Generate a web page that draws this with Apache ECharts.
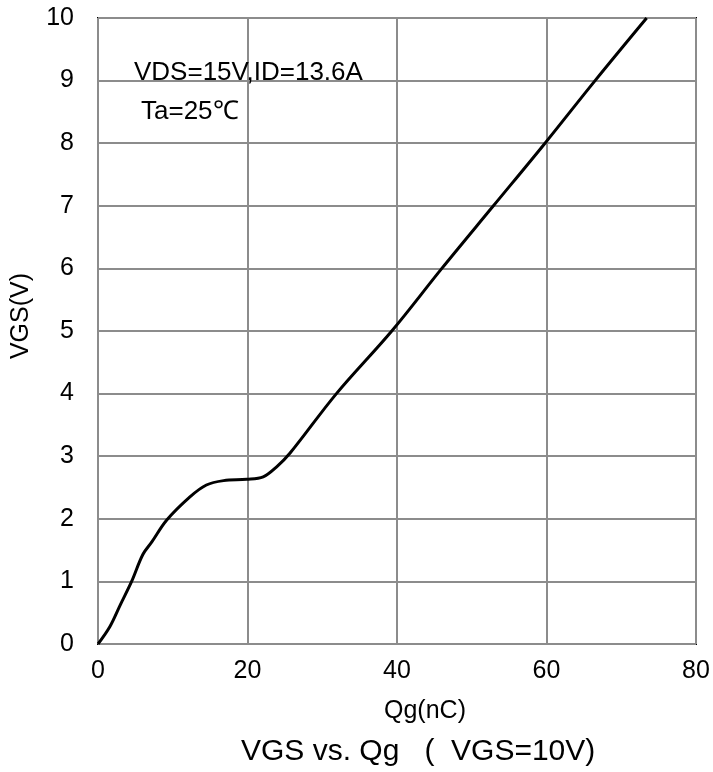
<!DOCTYPE html>
<html><head><meta charset="utf-8">
<script src="https://cdn.jsdelivr.net/npm/echarts@6/dist/echarts.min.js"></script>
<style>html,body{margin:0;padding:0;background:#fff}#c{width:713px;height:772px}</style>
</head><body><div id="c"></div>
<script>
const qg = [0, 1.6, 3.0, 4.5, 6.0, 7.2, 9.2, 12.3, 14.5, 16.8, 19.9, 22.1, 23.9, 25.7, 31.9, 39.3, 46.0, 52.9, 59.8, 66.5, 73.4];
const vgs = [0, 0.28, 0.63, 1.0, 1.43, 1.63, 1.98, 2.35, 2.54, 2.61, 2.63, 2.67, 2.83, 3.05, 4.0, 5.0, 6.0, 7.0, 8.0, 9.0, 10.0];
const xTicks = [0, 20, 40, 60, 80];
const yTicks = [0, 1, 2, 3, 4, 5, 6, 7, 8, 9, 10];
const xName = 'Qg(nC)';
const yName = 'VGS(V)';
const titleText = 'VGS vs. Qg   (  VGS=10V)';
const note1 = 'VDS=15V,ID=13.6A';
const note2 = 'Ta=25\u2103';

const chart = echarts.init(document.getElementById('c'));
const font = 'Liberation Sans, Arial, sans-serif';
chart.setOption({
  animation: false,
  grid: {left: 98, right: 17, top: 18, bottom: 128, show: true, borderColor: '#000', borderWidth: 2},
  title: {text: titleText, left: 236, top: 732,
    textStyle: {fontFamily: font, fontSize: 30, fontWeight: 'normal', color: '#000'}},
  xAxis: {type: 'value', min: xTicks[0], max: xTicks[xTicks.length-1], interval: 20,
    name: xName, nameLocation: 'middle', nameGap: 55,
    nameTextStyle: {fontFamily: font, fontSize: 25, color: '#000', padding: [0,0,0,56]},
    axisLine: {show: false}, axisTick: {show: false},
    axisLabel: {fontFamily: font, fontSize: 25, color: '#000', margin: 15},
    splitLine: {show: true, lineStyle: {color: '#8c8c8c', width: 2}}},
  yAxis: {type: 'value', min: yTicks[0], max: yTicks[yTicks.length-1], interval: 1,
    name: yName, nameLocation: 'middle', nameGap: 64, nameRotate: 90,
    nameTextStyle: {fontFamily: font, fontSize: 25, color: '#000', padding: [0,0,0,30]},
    axisLine: {show: false}, axisTick: {show: false},
    axisLabel: {fontFamily: font, fontSize: 25, color: '#000', margin: 24},
    splitLine: {show: true, lineStyle: {color: '#8c8c8c', width: 2}}},
  graphic: [
    {type: 'text', left: 134, top: 60, z: 10, style: {text: note1, fontFamily: font, fontSize: 26, fill: '#000'}},
    {type: 'text', left: 141, top: 99, z: 10, style: {text: note2, fontFamily: font, fontSize: 26, fill: '#000'}}
  ],
  series: [{type: 'line', data: qg.map((q, i) => [q, vgs[i]]), smooth: 0.35, showSymbol: false,
    lineStyle: {color: '#000', width: 3}, z: 5}]
});
</script></body></html>
